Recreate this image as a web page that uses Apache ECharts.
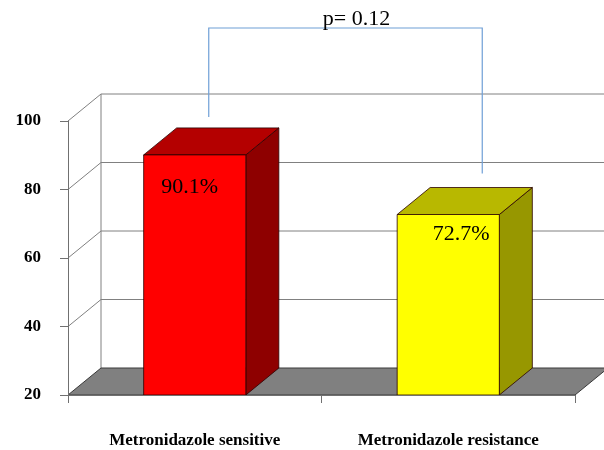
<!DOCTYPE html>
<html>
<head>
<meta charset="utf-8">
<script src="https://cdn.jsdelivr.net/npm/echarts@6/dist/echarts.min.js"></script>
<style>
  html, body { margin: 0; padding: 0; background: #fff; }
  #chart { width: 604px; height: 450px; }
</style>
</head>
<body>
<div id="chart"></div>
<script>
// Data
const categories = ['Metronidazole sensitive', 'Metronidazole resistance'];
const values = [90.1, 72.7];
const valueLabels = ['90.1%', '72.7%'];
const yTicks = [20, 40, 60, 80, 100];
const pValueText = 'p= 0.12';

// Styling
const SERIF = "'Liberation Serif', 'Times New Roman', serif";
const Y_MIN = 20, Y_MAX = 100, Y_STEP = 20;
const DX = 33, DY = -27;            // depth offset of the 3D box
const BAR_RATIO = 0.403;
const GRID_COLOR = '#808080';
const barColors = [
  { front: '#ff0000', top: '#b40000', side: '#8e0000' },
  { front: '#ffff00', top: '#b8b800', side: '#979700' }
];
const labelOffsets = [[46, 32], [64, 20]];   // label centre from bar's top-left corner
const bracketDx = [14, 34];                  // bracket legs relative to bar centre
const bracketGap = [11, 14];                 // gap above the back top edge
const BRACKET_Y = 28;

const chart = echarts.init(document.getElementById('chart'), null, { renderer: 'canvas' });

// Side wall diagonals, back-wall grid lines and the grey floor
function wallItem(params, api) {
  const cs = params.coordSys;
  const v = api.value(0);
  const p = api.coord([0, v]);
  const x0 = cs.x, y = p[1];
  const xr = cs.x + cs.width;
  const children = [];
  if (v === Y_MIN) {
    children.push({
      type: 'polygon',
      shape: { points: [[x0, y], [x0 + DX, y + DY], [xr + DX, y + DY], [xr, y]] },
      style: { fill: '#808080', stroke: '#3a3a3a', lineWidth: 1 }
    });
  } else {
    children.push({
      type: 'polyline',
      shape: { points: [[x0, y], [x0 + DX, y + DY], [xr + DX + 40, y + DY]] },
      style: { fill: null, stroke: GRID_COLOR, lineWidth: 1 }
    });
  }
  if (v === Y_MAX) {
    const yb = api.coord([0, Y_MIN])[1];
    children.push({
      type: 'line',
      shape: { x1: x0 + DX, y1: y + DY, x2: x0 + DX, y2: yb + DY },
      style: { stroke: GRID_COLOR, lineWidth: 1 }
    });
  }
  return { type: 'group', children };
}

// 3D box: side face, top face, front face and its value label
function barItem(params, api) {
  const i = params.dataIndex;
  const x = api.value(0), v = api.value(1);
  const top = api.coord([x, v]);
  const base = api.coord([x, Y_MIN]);
  const w = api.size([1, 0])[0] * BAR_RATIO;
  const l = top[0] - w / 2, r = top[0] + w / 2;
  const t = top[1], b = base[1];
  const c = barColors[i];
  const edge = { stroke: '#2a0000', lineWidth: 0.8 };
  return {
    type: 'group',
    children: [
      { type: 'polygon', shape: { points: [[r, t], [r + DX, t + DY], [r + DX, b + DY], [r, b]] },
        style: Object.assign({ fill: c.side }, edge) },
      { type: 'polygon', shape: { points: [[l, t], [l + DX, t + DY], [r + DX, t + DY], [r, t]] },
        style: Object.assign({ fill: c.top }, edge) },
      { type: 'rect', shape: { x: l, y: t, width: w, height: b - t },
        style: Object.assign({ fill: c.front }, edge) },
      { type: 'text', x: l + labelOffsets[i][0], y: t + labelOffsets[i][1],
        style: { text: valueLabels[i], font: '22px ' + SERIF, fill: '#000',
                 align: 'center', verticalAlign: 'middle' } }
    ]
  };
}

// Significance bracket joining the two bars
function bracketItem(params, api) {
  const a = api.coord([0, api.value(0)]);
  const c = api.coord([1, api.value(1)]);
  const xa = a[0] + bracketDx[0], xc = c[0] + bracketDx[1];
  const ya = a[1] + DY - bracketGap[0], yc = c[1] + DY - bracketGap[1];
  return {
    type: 'group',
    children: [
      { type: 'polyline', shape: { points: [[xa, ya], [xa, BRACKET_Y], [xc, BRACKET_Y], [xc, yc]] },
        style: { fill: null, stroke: '#6f9fd6', lineWidth: 1.2 } },
      { type: 'text', x: (xa + xc) / 2 + 11, y: BRACKET_Y + 2,
        style: { text: pValueText, font: '22px ' + SERIF, fill: '#000',
                 align: 'center', verticalAlign: 'bottom' } }
    ]
  };
}

chart.setOption({
  animation: false,
  backgroundColor: '#fff',
  grid: { left: 68, right: 29, top: 121, bottom: 55 },
  xAxis: {
    type: 'category',
    data: categories,
    boundaryGap: true,
    axisLine: { show: true, lineStyle: { color: '#707070', width: 1 } },
    axisTick: { show: true, length: 8, lineStyle: { color: '#707070' } },
    axisLabel: { margin: 37, color: '#000', fontFamily: SERIF, fontWeight: 'bold', fontSize: 17 },
    z: 5
  },
  yAxis: {
    type: 'value',
    min: Y_MIN, max: Y_MAX, interval: Y_STEP,
    splitLine: { show: false },
    axisLine: { show: true, lineStyle: { color: '#707070', width: 1 } },
    axisTick: { show: true, length: 8, lineStyle: { color: '#707070' } },
    axisLabel: { margin: 27, color: '#000', fontFamily: SERIF, fontWeight: 'bold', fontSize: 17,
                 padding: [5, 0, 0, 0] },
    z: 5
  },
  series: [
    { type: 'custom', name: 'walls', renderItem: wallItem, clip: false, z: 1,
      data: yTicks.slice().sort((p, q) => q - p).map(v => [v]), encode: { y: 0 }, silent: true },
    { type: 'custom', name: 'bars', renderItem: barItem, clip: false, z: 3,
      data: values.map((v, i) => [i, v]), encode: { x: 0, y: 1 } },
    { type: 'custom', name: 'bracket', renderItem: bracketItem, clip: false, z: 4,
      data: [[values[0], values[1]]], encode: { y: [0, 1] }, silent: true }
  ]
});
</script>
</body>
</html>
